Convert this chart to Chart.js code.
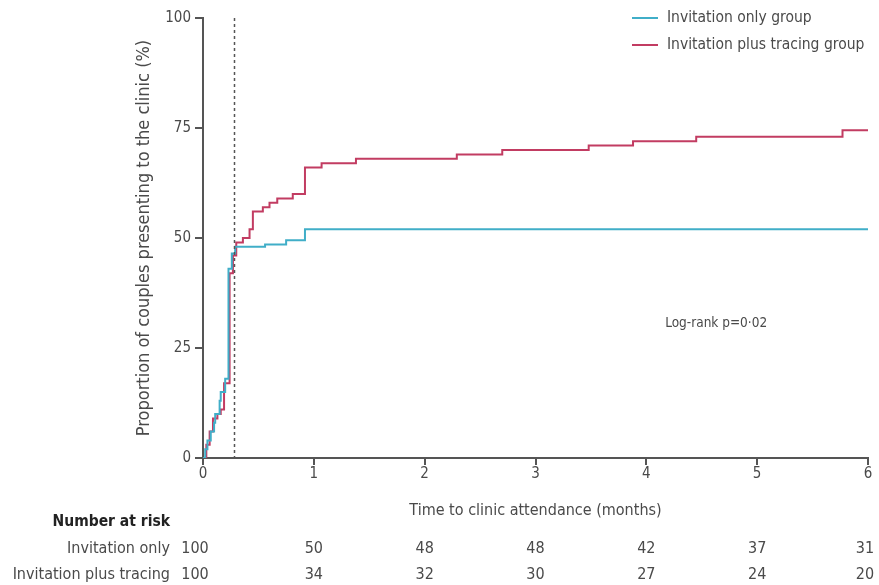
<!DOCTYPE html>
<html>
<head>
<meta charset="utf-8">
<script src="https://cdn.jsdelivr.net/npm/chart.js@4.4.1/dist/chart.umd.min.js"></script>
<style>
  html, body { margin: 0; padding: 0; background: #ffffff; }
  #wrap { width: 879px; height: 585px; position: relative; }
</style>
</head>
<body>
<div id="wrap"><canvas id="c" width="879" height="585"></canvas></div>
<script>
// ---- data ----
const seriesLabels = ["Invitation only group", "Invitation plus tracing group"];

const inviteTimes  = [0, 0.02, 0.04, 0.07, 0.10, 0.11, 0.15, 0.16, 0.20, 0.23, 0.26, 0.29, 0.56, 0.75, 0.92, 6.0];
const inviteValues = [0, 2,    4,    6,    8,    10,   13,   15,   18,   43,   46.5, 48,   48.5, 49.5, 52,   52];

const tracingTimes  = [0, 0.03, 0.06, 0.09, 0.13, 0.16, 0.19, 0.24, 0.27, 0.30, 0.36, 0.42, 0.45, 0.54, 0.60, 0.67, 0.81, 0.92, 1.07, 1.38, 2.29, 2.70, 3.48, 3.88, 4.45, 5.77, 6.0];
const tracingValues = [0, 3,    6,    9,    10,   11,   17,   42,   46,   49,   50,   52,   56,   57,   58,   59,   60,   66,   67,   68,   69,   70,   71,   72,   73,   74.5, 74.5];

const xTicks = [0, 1, 2, 3, 4, 5, 6];
const yTicks = [0, 25, 50, 75, 100];

const riskTimes = [0, 1, 2, 3, 4, 5, 6];
const riskRowLabels = ["Invitation only", "Invitation plus tracing"];
const riskInvite  = [100, 50, 48, 48, 42, 37, 31];
const riskTracing = [100, 34, 32, 30, 27, 24, 20];

const cutoffTime = 0.28;
const annotationText = "Log-rank p=0·02";
const annotationPos = [4.63, 30.5];

// ---- styling ----
const FONT = "'DejaVu Sans Condensed', 'Liberation Sans Narrow', 'Liberation Sans', sans-serif";
const BLUE = '#40aec8';
const RED = '#c23c62';
const AXIS = '#555555';
const TEXT = '#4a4a4a';

function toPoints(xs, ys) { return xs.map((x, i) => ({ x: x, y: ys[i] })); }

const overlay = {
  id: 'overlay',
  afterDatasetsDraw(chart) {
    const { ctx, scales: { x, y }, chartArea } = chart;
    ctx.save();
    // dashed cut-off line
    ctx.strokeStyle = '#555';
    ctx.lineWidth = 1.5;
    ctx.setLineDash([3, 3]);
    const cx = Math.round(x.getPixelForValue(cutoffTime)) + 0.5;
    ctx.beginPath();
    ctx.moveTo(cx, chartArea.top);
    ctx.lineTo(cx, chartArea.bottom);
    ctx.stroke();
    ctx.setLineDash([]);

    // legend (top right)
    ctx.font = '15.5px ' + FONT;
    ctx.textBaseline = 'middle';
    ctx.textAlign = 'left';
    const cols = [BLUE, RED];
    chart.data.datasets.forEach((ds, i) => {
      const ly = 18 + i * 27;
      ctx.strokeStyle = cols[i];
      ctx.lineWidth = 2;
      ctx.beginPath();
      ctx.moveTo(632, ly);
      ctx.lineTo(658, ly);
      ctx.stroke();
      ctx.fillStyle = TEXT;
      ctx.fillText(ds.label, 667, ly);
    });

    // annotation
    ctx.font = '13.5px ' + FONT;
    ctx.textAlign = 'center';
    ctx.fillStyle = TEXT;
    ctx.fillText(annotationText, x.getPixelForValue(annotationPos[0]), y.getPixelForValue(annotationPos[1]));

    // number at risk table
    ctx.textAlign = 'right';
    ctx.fillStyle = '#222';
    ctx.font = 'bold 15.5px ' + FONT;
    ctx.fillText('Number at risk', 170, 522);
    ctx.font = '16px ' + FONT;
    ctx.fillStyle = TEXT;
    ctx.fillText(riskRowLabels[0], 170, 549);
    ctx.fillText(riskRowLabels[1], 170, 575);
    ctx.textAlign = 'center';
    riskTimes.forEach((t, i) => {
      let px = x.getPixelForValue(t);
      if (i === 0) px -= 8;
      if (i === riskTimes.length - 1) px -= 3;
      ctx.fillText(String(riskInvite[i]), px, 549);
      ctx.fillText(String(riskTracing[i]), px, 575);
    });
    ctx.restore();
  }
};

new Chart(document.getElementById('c'), {
  type: 'line',
  data: {
    datasets: [
      {
        label: seriesLabels[0],
        data: toPoints(inviteTimes, inviteValues),
        borderColor: BLUE,
        borderWidth: 2,
        stepped: true,
        pointRadius: 0,
        fill: false
      },
      {
        label: seriesLabels[1],
        data: toPoints(tracingTimes, tracingValues),
        borderColor: RED,
        borderWidth: 2,
        stepped: true,
        pointRadius: 0,
        fill: false
      }
    ]
  },
  options: {
    responsive: false,
    animation: false,
    devicePixelRatio: 1,
    layout: { padding: { left: 0, right: 11, top: 18, bottom: 0 } },
    plugins: {
      legend: { display: false },
      tooltip: { enabled: false }
    },
    scales: {
      x: {
        type: 'linear',
        min: 0,
        max: 6,
        afterBuildTicks(scale) { scale.ticks = xTicks.map(v => ({ value: v })); },
        afterFit(scale) { scale.height = 127; },
        border: { display: true, color: AXIS, width: 2 },
        grid: { display: true, drawOnChartArea: false, drawTicks: true, tickLength: 7, color: AXIS, lineWidth: 2 },
        ticks: { color: TEXT, font: { family: FONT, size: 15 }, padding: 0, maxRotation: 0 },
        title: {
          display: true,
          text: 'Time to clinic attendance (months)',
          color: TEXT,
          font: { family: FONT, size: 16 },
          padding: { top: 0, bottom: 65 }
        }
      },
      y: {
        type: 'linear',
        min: 0,
        max: 100,
        afterBuildTicks(scale) { scale.ticks = yTicks.map(v => ({ value: v })); },
        afterFit(scale) { scale.width = 203; },
        border: { display: true, color: AXIS, width: 2 },
        grid: { display: true, drawOnChartArea: false, drawTicks: true, tickLength: 8, color: AXIS, lineWidth: 2 },
        ticks: { color: TEXT, font: { family: FONT, size: 15 }, padding: 4 },
        title: {
          display: true,
          text: 'Proportion of couples presenting to the clinic (%)',
          color: TEXT,
          font: { family: FONT, size: 18 },
          padding: { top: 134, bottom: 0 }
        }
      }
    }
  },
  plugins: [overlay]
});
</script>
</body>
</html>
